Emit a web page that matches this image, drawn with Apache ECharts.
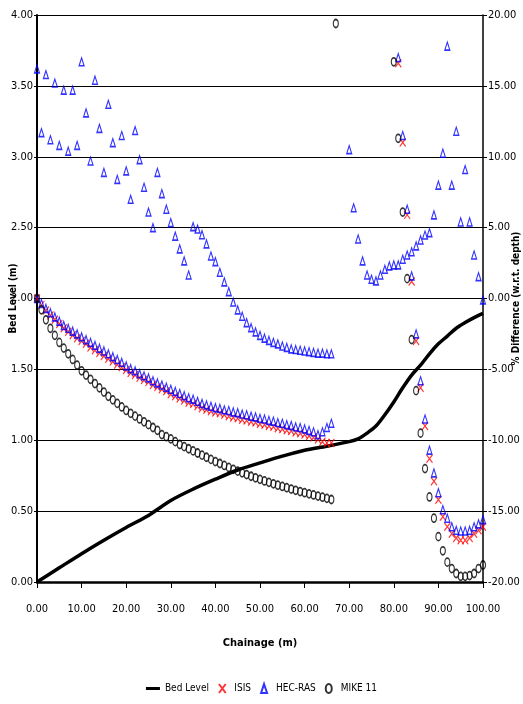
<!DOCTYPE html>
<html><head><meta charset="utf-8">
<script src="https://cdn.jsdelivr.net/npm/echarts@6/dist/echarts.min.js"></script>
<style>html,body{margin:0;padding:0;background:#fff}#c{width:523px;height:704px}</style>
</head><body><div id="c"></div>
<script>
// ---- Bed level (left axis, m) ----
const bedChainage = [0,5,10,15,20,25,30,35,40,45,50,55,60,65,70,72,74,76,78,80,82,84,86,88,90,92,94,96,98,100];
const bedLevel = [0,0.1,0.2,0.295,0.385,0.47,0.575,0.655,0.725,0.79,0.84,0.888,0.93,0.958,0.99,1.01,1.05,1.10,1.18,1.27,1.37,1.46,1.53,1.61,1.68,1.735,1.79,1.83,1.865,1.895];

// ---- % difference (right axis), chainage 0..66 ----
const chainageA = [0,1,2,3,4,5,6,7,8,9,10,11,12,13,14,15,16,17,18,19,20,21,22,23,24,25,26,27,28,29,30,31,32,33,34,35,36,37,38,39,40,41,42,43,44,45,46,47,48,49,50,51,52,53,54,55,56,57,58,59,60,61,62,63,64,65,66];
const isisA = [0,-0.45,-0.85,-1.2,-1.5,-1.8,-2.1,-2.35,-2.6,-2.8,-3.0,-3.2,-3.45,-3.65,-3.85,-4.05,-4.25,-4.45,-4.65,-4.85,-5.05,-5.25,-5.4,-5.6,-5.75,-5.9,-6.1,-6.25,-6.4,-6.55,-6.75,-6.9,-7.05,-7.2,-7.35,-7.45,-7.6,-7.75,-7.85,-7.95,-8.05,-8.1,-8.2,-8.3,-8.4,-8.45,-8.55,-8.6,-8.7,-8.75,-8.85,-8.9,-9.0,-9.05,-9.15,-9.2,-9.3,-9.35,-9.45,-9.5,-9.6,-9.7,-9.8,-9.95,-10.1,-10.2,-10.2];
const hecLowerA = [0,-0.35,-0.7,-1.0,-1.3,-1.6,-1.9,-2.1,-2.3,-2.5,-2.7,-2.9,-3.1,-3.3,-3.5,-3.7,-3.9,-4.1,-4.3,-4.5,-4.75,-4.95,-5.1,-5.3,-5.45,-5.6,-5.8,-5.95,-6.1,-6.25,-6.4,-6.55,-6.7,-6.85,-7.0,-7.1,-7.25,-7.4,-7.5,-7.6,-7.7,-7.75,-7.85,-7.9,-8.0,-8.05,-8.15,-8.2,-8.3,-8.35,-8.45,-8.5,-8.6,-8.65,-8.75,-8.8,-8.9,-8.95,-9.05,-9.1,-9.2,-9.3,-9.4,-9.6,-9.4,-9.1,-8.8];
const hecUpperA = [16.2,11.7,15.8,11.2,15.2,10.8,14.7,10.4,14.7,10.8,16.7,13.1,9.7,15.4,12.0,8.9,13.7,11.0,8.4,11.5,9.0,7.0,11.85,9.8,7.85,6.1,5.0,8.9,7.4,6.3,5.35,4.4,3.5,2.65,1.66,5.07,4.9,4.5,3.85,3.0,2.6,1.85,1.17,0.48,-0.25,-0.8,-1.25,-1.7,-2.05,-2.35,-2.6,-2.8,-2.95,-3.1,-3.2,-3.35,-3.45,-3.55,-3.6,-3.65,-3.7,-3.75,-3.8,-3.85,-3.85,-3.9,-3.9];
const mikeA = [0,-0.8,-1.5,-2.1,-2.6,-3.1,-3.5,-3.9,-4.3,-4.7,-5.1,-5.4,-5.7,-6.0,-6.3,-6.6,-6.9,-7.15,-7.4,-7.65,-7.9,-8.1,-8.3,-8.5,-8.7,-8.9,-9.1,-9.3,-9.6,-9.75,-9.9,-10.1,-10.3,-10.45,-10.6,-10.75,-10.9,-11.05,-11.2,-11.35,-11.5,-11.64,-11.78,-11.92,-12.05,-12.18,-12.3,-12.42,-12.54,-12.65,-12.76,-12.87,-12.97,-13.07,-13.17,-13.26,-13.35,-13.44,-13.53,-13.62,-13.7,-13.78,-13.86,-13.94,-14.02,-14.1,-14.18];

// ---- % difference, downstream reach ----
const chainageMikeB = [67,80,81,82,83,84,85,86,87,88,89,90,91,92,93,94,95,96,97,98,99,100];
const mikeB = [19.4,16.7,11.3,6.1,1.4,-2.9,-6.5,-9.5,-12.0,-14.0,-15.5,-16.8,-17.8,-18.6,-19.05,-19.4,-19.6,-19.6,-19.55,-19.4,-19.05,-18.8];
const chainageB = [81,82,83,84,85,86,87,88,89,90,91,92,93,94,95,96,97,98,99,100];
const isisB = [16.6,11.0,5.9,1.2,-3.0,-6.3,-9.0,-11.3,-12.9,-14.2,-15.4,-16.1,-16.6,-16.9,-17.05,-17.05,-16.9,-16.6,-16.35,-16.1];
const hecB = [17.0,11.5,6.3,1.6,-2.5,-5.8,-8.5,-10.7,-12.3,-13.7,-14.9,-15.5,-16.1,-16.35,-16.4,-16.4,-16.35,-16.1,-15.9,-15.6];
const chainageHecC = [70,71,72,73,74,75,76,77,78,79,80,81,82,83,84,85,86,87,88,89,90,91,92,93,94,95,96,97,98,99,100];
const hecC = [10.5,6.4,4.2,2.65,1.66,1.36,1.24,1.66,2.06,2.3,2.37,2.37,2.77,3.07,3.3,3.71,4.13,4.48,4.65,5.9,8.0,10.25,17.8,8.0,11.8,5.4,9.1,5.4,3.07,1.54,-0.1];

// ---- ticks ----
const bedTicks = {min:0, max:4, step:0.5};
const diffTicks = {min:-20, max:20, step:5};
const chainTicks = {min:0, max:100, step:10};

function zip(xs, ys){ return xs.map((x,i)=>[x, ys[i]]); }
const fam = '"DejaVu Sans Condensed","Liberation Sans Narrow","Liberation Sans",sans-serif';
const fmt = v => v.toFixed(2);

const chart = echarts.init(document.getElementById('c'), null, {renderer:'canvas'});
chart.setOption({
  animation:false,
  textStyle:{fontFamily:fam, color:'#000'},
  grid:{left:37, right:40, top:15, bottom:122, containLabel:false, outerBoundsMode:'none'},
  legend:{
    bottom:5, left:'center', itemWidth:14, itemHeight:9, itemGap:9,
    textStyle:{fontFamily:fam, fontSize:10, color:'#000'},
    data:[
      {name:'Bed Level', icon:'path://M0,0H16V3.4H0Z'},
      {name:'ISIS', icon:'path://M0,0L6,8M6,0L0,8'},
      {name:'HEC-RAS', icon:'path://M3,0L6,9L0,9Z'},
      {name:'MIKE 11', icon:'path://M3,0C4.7,0 6,2 6,4.5C6,7 4.7,9 3,9C1.3,9 0,7 0,4.5C0,2 1.3,0 3,0Z'}
    ]
  },
  xAxis:{
    type:'value', min:chainTicks.min, max:chainTicks.max, interval:chainTicks.step,
    axisLine:{lineStyle:{color:'#000', width:2.5}},
    axisTick:{show:true, length:6, lineStyle:{color:'#000', width:1}},
    axisLabel:{formatter:fmt, margin:22, fontSize:11, color:'#000', fontFamily:fam},
    splitLine:{show:false},
    name:'Chainage (m)', nameLocation:'middle', nameGap:56, nameMoveOverlap:false,
    nameTextStyle:{fontWeight:'bold', fontSize:11, color:'#000', fontFamily:fam}
  },
  yAxis:[{
    type:'value', min:bedTicks.min, max:bedTicks.max, interval:bedTicks.step,
    axisLine:{show:true, lineStyle:{color:'#000', width:2}},
    axisTick:{show:true, length:3, lineStyle:{color:'#000'}},
    axisLabel:{formatter:fmt, margin:4, fontSize:11, color:'#000', fontFamily:fam},
    splitLine:{show:true, lineStyle:{color:'#000', width:1}},
    name:'Bed Level (m)', nameLocation:'middle', nameRotate:90, nameGap:19, nameMoveOverlap:false,
    nameTextStyle:{fontWeight:'bold', fontSize:10, color:'#000', fontFamily:fam}
  },{
    type:'value', position:'right', min:diffTicks.min, max:diffTicks.max, interval:diffTicks.step,
    axisLine:{show:true, lineStyle:{color:'#000', width:1.5}},
    axisTick:{show:true, length:4, lineStyle:{color:'#000'}},
    axisLabel:{formatter:fmt, margin:5, fontSize:11, color:'#000', fontFamily:fam},
    splitLine:{show:false},
    name:'% Difference (w.r.t. depth)', nameLocation:'middle', nameRotate:90, nameGap:28, nameMoveOverlap:false,
    nameTextStyle:{fontWeight:'bold', fontSize:10, color:'#000', fontFamily:fam}
  }],
  series:[
    {name:'Bed Level', type:'line', yAxisIndex:0, data:zip(bedChainage, bedLevel), symbol:'none', smooth:0.3,
     lineStyle:{color:'#000', width:3.5}, itemStyle:{color:'#000'}, z:2},
    {name:'ISIS', type:'scatter', yAxisIndex:1, data:zip(chainageA, isisA).concat(zip(chainageB, isisB)),
     symbol:'path://M0,0L10,14M10,0L0,14', symbolSize:[6,8],
     itemStyle:{color:'rgba(0,0,0,0)', borderColor:'#ff0000', borderWidth:1.2}, z:3},
    {name:'HEC-RAS', type:'scatter', yAxisIndex:1,
     data:zip(chainageA, hecLowerA).concat(zip(chainageA, hecUpperA), zip(chainageB, hecB), zip(chainageHecC, hecC)),
     symbol:'triangle', symbolSize:[5,8],
     itemStyle:{color:'rgba(255,255,255,0)', borderColor:'#0000ff', borderWidth:1.3}, z:4},
    {name:'MIKE 11', type:'scatter', yAxisIndex:1, data:zip(chainageA, mikeA).concat(zip(chainageMikeB, mikeB)),
     symbol:'circle', symbolSize:[5,8],
     itemStyle:{color:'rgba(255,255,255,0)', borderColor:'#000', borderWidth:1.4}, z:5}
  ]
});
</script></body></html>
